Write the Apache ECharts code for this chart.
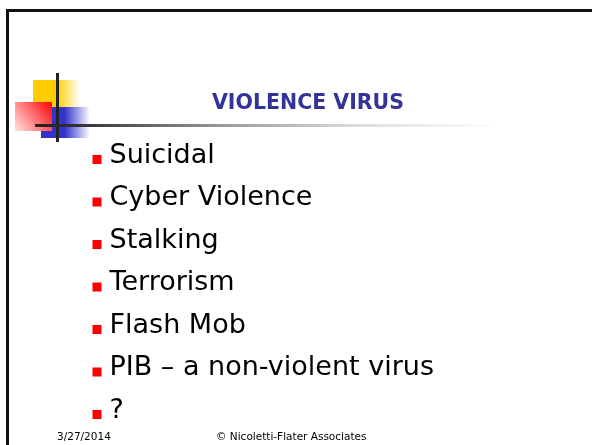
<!DOCTYPE html>
<html>
<head>
<meta charset="utf-8">
<script src="https://cdn.jsdelivr.net/npm/echarts@6/dist/echarts.min.js"></script>
<style>
html,body{margin:0;padding:0;background:#fff;}
#main{width:592px;height:445px;}
</style>
</head>
<body>
<div id="main"></div>
<script>
// Slide content
var title = 'VIOLENCE VIRUS';
var bulletItems = ['Suicidal', 'Cyber Violence', 'Stalking', 'Terrorism', 'Flash Mob', 'PIB \u2013 a non-violent virus', '?'];
var bulletX = [0, 0, 0, 0, 0, 0, 0];
var footerDate = '3/27/2014';
var footerCredit = '\u00a9 Nicoletti-Flater Associates';

var FONT = '"DejaVu Sans", Tahoma, sans-serif';

var chart = echarts.init(document.getElementById('main'), null, {renderer: 'canvas'});

var option = {
  backgroundColor: '#ffffff',
  animation: false,
  grid: {left: 97, right: 40, top: 138.25, height: 297.5, containLabel: false},
  xAxis: {type: 'value', min: 0, max: 1, show: false},
  yAxis: {type: 'category', data: bulletItems, inverse: true, show: false},
  series: [{
    type: 'scatter',
    symbol: 'rect',
    symbolSize: 9,
    itemStyle: {color: '#ff0000', opacity: 1},
    emphasis: {disabled: true},
    data: bulletX.map(function (x, i) { return [x, bulletItems[i]]; }),
    label: {
      show: true,
      position: 'right',
      distance: 8,
      offset: [0, -4],
      formatter: function (p) { return p.value[1]; },
      fontFamily: FONT,
      fontSize: 27,
      color: '#000000',
      opacity: 1
    }
  }],
  graphic: [
    // slide frame
    {type: 'rect', shape: {x: 6, y: 9, width: 586, height: 3}, style: {fill: '#111'}, z: 10},
    {type: 'rect', shape: {x: 6, y: 9, width: 3, height: 436}, style: {fill: '#111'}, z: 10},
    // logo: yellow
    {type: 'rect', shape: {x: 33, y: 80, width: 47, height: 27}, z: 5,
      style: {fill: new echarts.graphic.LinearGradient(0, 0, 1, 0, [
        {offset: 0, color: '#ffcc00'}, {offset: 0.5, color: '#ffcc00'}, {offset: 1, color: 'rgba(255,204,0,0)'}])}},
    // logo: blue
    {type: 'rect', shape: {x: 41, y: 107, width: 49, height: 31}, z: 6,
      style: {fill: new echarts.graphic.LinearGradient(0, 0, 1, 0, [
        {offset: 0, color: '#3333cc'}, {offset: 0.48, color: '#3333cc'}, {offset: 1, color: 'rgba(51,51,204,0)'}])}},
    // logo: red
    {type: 'rect', shape: {x: 15, y: 102, width: 37, height: 29}, z: 7,
      style: {fill: new echarts.graphic.LinearGradient(1, 0, 0, 1, [
        {offset: 0, color: '#ff0000'}, {offset: 1, color: 'rgba(255,225,225,0.95)'}])}},
    // vertical line
    {type: 'rect', shape: {x: 56, y: 73, width: 3, height: 69}, style: {fill: '#222'}, z: 8},
    // horizontal gradient line
    {type: 'rect', shape: {x: 35, y: 124, width: 465, height: 3}, z: 8,
      style: {fill: new echarts.graphic.LinearGradient(0, 0, 1, 0, [
        {offset: 0, color: '#222'}, {offset: 0.1, color: '#333'}, {offset: 0.4, color: '#999'},
        {offset: 0.7, color: '#ddd'}, {offset: 1, color: '#fff'}])}},
    // title
    {type: 'text', x: 308, y: 114, z: 9,
      style: {text: title, fill: '#333399', font: 'bold 20.5px ' + FONT, textAlign: 'center', textVerticalAlign: 'bottom'}},
    // footer
    {type: 'text', x: 57, y: 443, z: 9,
      style: {text: footerDate, fill: '#000', font: '10.5px ' + FONT, textAlign: 'left', textVerticalAlign: 'bottom'}},
    {type: 'text', x: 216, y: 443, z: 9,
      style: {text: footerCredit, fill: '#000', font: '10.5px ' + FONT, textAlign: 'left', textVerticalAlign: 'bottom'}}
  ]
};
chart.setOption(option);
</script>
</body>
</html>
